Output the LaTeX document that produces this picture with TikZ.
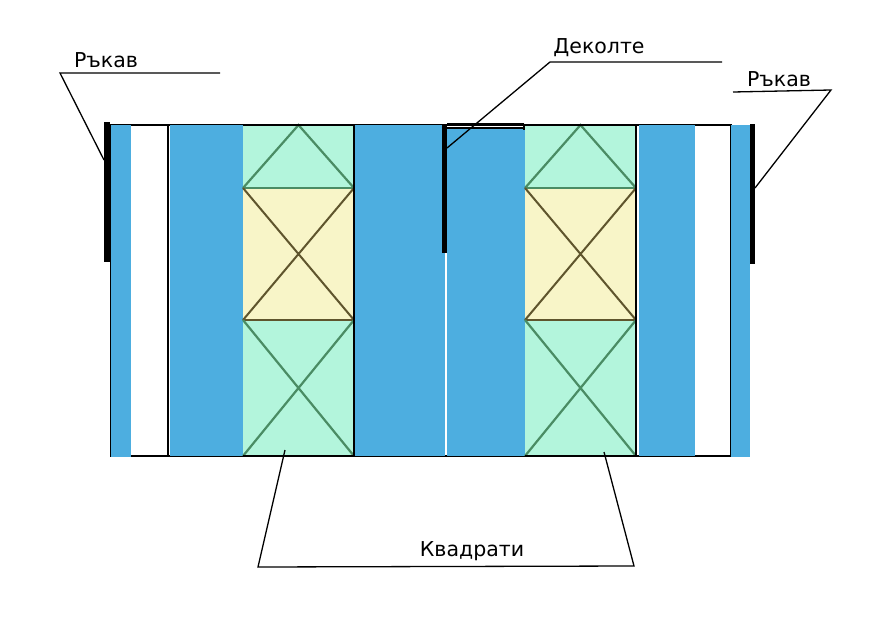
\documentclass[tikz,border=0pt]{standalone}
\usepackage{fontspec}
\setmainfont{DejaVu Sans}
\usetikzlibrary{positioning,calc}
\definecolor{stripblue}{RGB}{77,174,224}
\definecolor{panelgreen}{RGB}{179,245,220}
\definecolor{panelyellow}{RGB}{248,245,200}
\definecolor{crossgreen}{RGB}{74,140,100}
\definecolor{crossbrown}{RGB}{95,85,45}
\begin{document}
\begin{tikzpicture}[x=1pt,y=-1pt,
    strip/.style={fill=stripblue,draw=none},
    bar/.style={fill=black,draw=none},
    lbl/.style={font=\fontsize{20.5}{25}\selectfont,inner sep=0pt},
    leader/.style={line width=1.3pt}]
    \useasboundingbox (0,0) rectangle (887,629);
    \fill [white] (0,0) rectangle (887,629);
    \draw [line width=1.4pt] (111,125) rectangle (731,456); % Outline
    \draw [line width=1.4pt] (168,125) -- (168,456);
    % Blue strips
    \fill [strip] (111,125) rectangle (131,457);
    \fill [strip] (170,125) rectangle (243,456);
    \fill [strip] (354,125) rectangle (444.5,456);
    \fill [strip] (446.5,128) rectangle (525,456);
    \fill [strip] (639,125) rectangle (695,456);
    \fill [strip] (731,125) rectangle (750,457);
    \draw [line width=1.2pt] (447,124) -- (524,124) (447,128) -- (524,128) (524,123.5) -- (524,130);
    % Panels
    \foreach \px in {243,525} {
        \fill [panelgreen] (\px,125) rectangle ++(111,63);
        \fill [panelyellow] (\px,188) rectangle ++(111,132);
        \fill [panelgreen] (\px,320) rectangle ++(111,136);
        \draw [crossgreen, line width=2.2pt] (\px,188) -- ++(55.5,-63) -- ++(55.5,63);
        \draw [crossgreen, line width=2pt] (\px,188) -- ++(111,0);
        \draw [crossbrown, line width=2pt] (\px,188) -- ++(111,132) (\px+111,188) -- ++(-111,132);
        \draw [crossbrown, line width=2pt] (\px,320) -- ++(111,0);
        \draw [crossgreen, line width=2.2pt] (\px,320) -- ++(111,136) (\px+111,320) -- ++(-111,136);
        \draw [line width=1.2pt] (\px,125) -- ++(111,0) -- ++(0,331) -- ++(-111,0);
    }
    % Black bars
    \fill [bar] (104,122) rectangle (110,262);
    \fill [bar] (442,124) rectangle (447,253);
    \fill [bar] (750,124) rectangle (755,264);
    % Labels
    \node [lbl] (lsleeve) at (106,60) {Ръкав};
    \node [lbl] (neck) at (599,48) {Деколте};
    \node [lbl] (rsleeve) at (779,79) {Ръкав};
    \node [lbl] (squares) at (472,551) {Квадрати};
    \coordinate (lsleeveA) at (60,73);
    \coordinate (lsleeveB) at (220,73);
    \coordinate (lsleeveT) at (104,160);
    \coordinate (neckA) at (550,62);
    \coordinate (neckB) at (722,62);
    \coordinate (neckT) at (447,148);
    \coordinate (rsleeveA) at (831,90);
    \coordinate (rsleeveB) at (733,92);
    \coordinate (rsleeveT) at (755,188);
    \coordinate (squaresA) at (258,567);
    \coordinate (squaresB) at (634,566);
    \coordinate (squaresL) at (285,450);
    \coordinate (squaresR) at (604,452);
    \draw [leader] (lsleeveB) -- (lsleeveA) -- (lsleeveT);
    \draw [leader] (neckB) -- (neckA) -- (neckT);
    \draw [leader] (rsleeveB) -- (rsleeveA) -- (rsleeveT);
    \draw [leader] (squaresL) -- (squaresA) -- (squaresB) -- (squaresR);
\end{tikzpicture}
\end{document}
